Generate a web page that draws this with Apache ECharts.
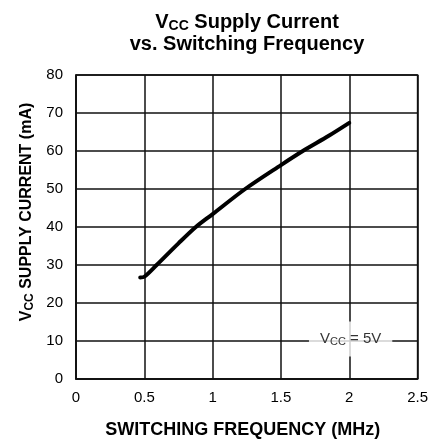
<!DOCTYPE html>
<html>
<head>
<meta charset="utf-8">
<script src="https://cdn.jsdelivr.net/npm/echarts@6/dist/echarts.min.js"></script>
<style>
  html, body { margin: 0; padding: 0; background: #fff; }
  #chart { width: 431px; height: 444px; }
</style>
</head>
<body>
<div id="chart"></div>
<script>
// 开关频率 (MHz) / 电流 (mA)
var freq = [0.47, 0.5, 0.59, 0.75, 0.877, 1.0, 1.238, 1.5, 1.66, 1.85, 2.0];
var current = [26.7, 26.9, 30, 35.7, 40, 43.4, 50, 56.3, 60, 64, 67.4];
var xTicks = [0, 0.5, 1, 1.5, 2, 2.5];
var yTicks = [0, 10, 20, 30, 40, 50, 60, 70, 80];
var notePos = [2.01, 10.5];

var font = 'Liberation Sans';
var chart = echarts.init(document.getElementById('chart'));

var lineData = [];
for (var i = 0; i < freq.length; i++) {
  lineData.push([freq[i], current[i]]);
}

chart.setOption({
  backgroundColor: '#fff',
  animation: false,
  textStyle: { fontFamily: font },
  title: {
    text: '{b|V}{s|CC}{b| Supply Current}\n{b|vs. Switching Frequency}',
    left: 242,
    textAlign: 'center',
    top: 6,
    textStyle: {
      fontFamily: font,
      rich: {
        b: { fontFamily: font, fontWeight: 'bold', fontSize: 20, color: '#000', lineHeight: 22 },
        s: { fontFamily: font, fontWeight: 'bold', fontSize: 14, color: '#000', verticalAlign: 'bottom', lineHeight: 18 }
      }
    }
  },
  grid: {
    left: 76,
    right: 9,
    top: 75,
    bottom: 60,
    show: true,
    borderColor: '#111',
    borderWidth: 1.5
  },
  xAxis: {
    type: 'value',
    min: xTicks[0],
    max: xTicks[xTicks.length - 1],
    interval: 0.5,
    name: 'SWITCHING FREQUENCY (MHz)',
    nameLocation: 'middle',
    nameGap: 42,
    nameTextStyle: { fontFamily: font, fontWeight: 'bold', fontSize: 18, color: '#000', padding: [0, 8, 0, 0] },
    axisLine: { show: true, lineStyle: { color: '#111', width: 1.5 } },
    axisTick: { show: false },
    axisLabel: { margin: 11, fontFamily: font, fontSize: 15, color: '#000' },
    splitLine: { show: true, lineStyle: { color: '#111', width: 1.5 } }
  },
  yAxis: {
    type: 'value',
    min: yTicks[0],
    max: yTicks[yTicks.length - 1],
    interval: 10,
    name: '{b|V}{s|CC}{b| SUPPLY CURRENT (mA)}',
    nameLocation: 'middle',
    nameGap: 40,
    nameTextStyle: {
      fontFamily: font,
      padding: [0, 0, 0, 30],
      rich: {
        b: { fontFamily: font, fontWeight: 'bold', fontSize: 16, color: '#000', lineHeight: 18 },
        s: { fontFamily: font, fontWeight: 'bold', fontSize: 12, color: '#000', verticalAlign: 'bottom', lineHeight: 14 }
      }
    },
    axisLine: { show: true, lineStyle: { color: '#111', width: 1.5 } },
    axisTick: { show: false },
    axisLabel: { margin: 13, fontFamily: font, fontSize: 15, color: '#000' },
    splitLine: { show: true, lineStyle: { color: '#111', width: 1.5 } }
  },
  series: [
    {
      type: 'line',
      data: lineData,
      smooth: 0.3,
      symbol: 'none',
      lineStyle: { color: '#000', width: 4, cap: 'round' }
    },
    {
      type: 'scatter',
      data: [notePos],
      symbolSize: 0,
      z: 10,
      label: {
        show: true,
        position: 'inside',
        backgroundColor: '#fff',
        padding: [9, 11, 9, 11],
        formatter: '{n|V}{s|CC}{n| = 5V}',
        rich: {
          n: { fontFamily: font, fontSize: 15, color: '#000', lineHeight: 17 },
          s: { fontFamily: font, fontSize: 11, color: '#000', verticalAlign: 'bottom', lineHeight: 12 }
        }
      }
    }
  ]
});

window.addEventListener('resize', function () {
  chart.resize();
});
</script>
</body>
</html>
